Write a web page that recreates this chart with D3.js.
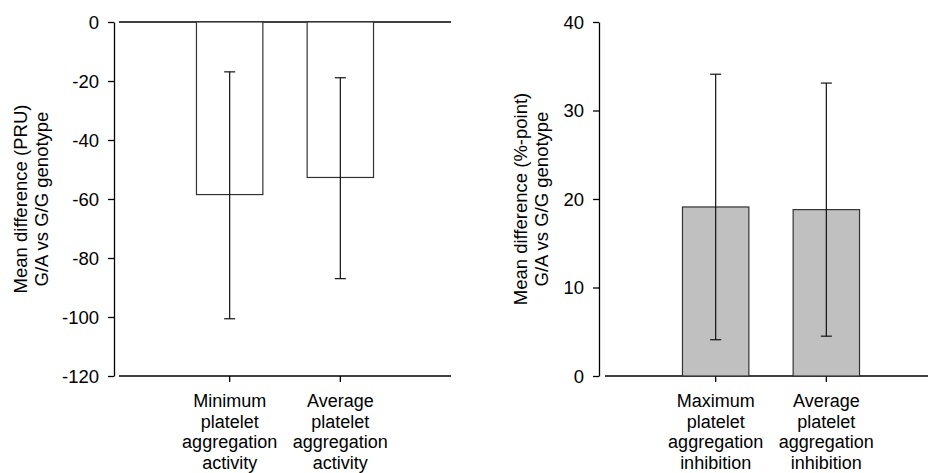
<!DOCTYPE html>
<html>
<head>
<meta charset="utf-8">
<script src="https://cdn.jsdelivr.net/npm/d3@7"></script>
<style>
  body { margin: 0; background: #fff; }
  svg { display: block; font-family: "Liberation Sans", Arial, sans-serif; }
  .axis text { font-size: 18.5px; fill: #000; }
  .axis line, .axis path { stroke: #000; stroke-width: 1.3; }
  .cat { font-size: 18px; fill: #000; }
  .ytitle { font-size: 18.5px; fill: #000; }
</style>
</head>
<body>
<svg width="928" height="473"></svg>
<script>
// left panel: PRU differences
var leftCats = [["Minimum", "platelet", "aggregation", "activity"],
                ["Average", "platelet", "aggregation", "activity"]];
var leftMeans = [-58.5, -52.7];
var leftLow = [-100.6, -87.0];
var leftHigh = [-16.9, -18.9];
var leftTicks = [0, -20, -40, -60, -80, -100, -120];
var leftTitle = ["Mean difference (PRU)", "G/A vs G/G genotype"];

// right panel: inhibition differences
var rightCats = [["Maximum", "platelet", "aggregation", "inhibition"],
                 ["Average", "platelet", "aggregation", "inhibition"]];
var rightMeans = [19.1, 18.8];
var rightLow = [4.1, 4.5];
var rightHigh = [34.1, 33.1];
var rightTicks = [0, 10, 20, 30, 40];
var rightTitle = ["Mean difference (%-point)", "G/A vs G/G genotype"];

var svg = d3.select("svg");

function drawPanel(opts) {
  var g = svg.append("g");
  var x = d3.scaleLinear().domain([0, 3]).range(opts.xRange);
  var y = d3.scaleLinear().domain(opts.yDomain).range([376, 22]);
  var barW = x(0.6) - x(0);

  // y axis
  g.append("g")
    .attr("class", "axis")
    .attr("transform", "translate(" + opts.yAxisX + ",0)")
    .call(d3.axisLeft(y).tickValues(opts.ticks).tickSize(6).tickSizeOuter(0).tickPadding(9)
      .tickFormat(function(d) { return String(d); }))
    .call(function(a) { a.selectAll("text").attr("dy", "0.34em"); });

  // horizontal lines
  opts.hLines.forEach(function(v) {
    g.append("line")
      .attr("x1", x(0)).attr("x2", x(3))
      .attr("y1", y(v)).attr("y2", y(v))
      .attr("stroke", "#000").attr("stroke-width", 1.3);
  });

  // category ticks
  g.selectAll(".ctick").data(opts.cats).enter().append("line")
    .attr("x1", function(d, i) { return x(i + 1); })
    .attr("x2", function(d, i) { return x(i + 1); })
    .attr("y1", 376).attr("y2", 382)
    .attr("stroke", "#000").attr("stroke-width", 1.3);

  // bars
  g.selectAll(".bar").data(opts.means).enter().append("rect")
    .attr("x", function(d, i) { return x(i + 1) - barW / 2; })
    .attr("width", barW)
    .attr("y", function(d) { return Math.min(y(d), y(0)); })
    .attr("height", function(d) { return Math.abs(y(d) - y(0)); })
    .attr("fill", opts.fill)
    .attr("stroke", "#333").attr("stroke-width", 1.2);

  // error bars
  opts.means.forEach(function(m, i) {
    var cx = x(i + 1);
    g.append("line").attr("x1", cx).attr("x2", cx)
      .attr("y1", y(opts.high[i])).attr("y2", y(opts.low[i]))
      .attr("stroke", "#111").attr("stroke-width", 1.2);
    [opts.high[i], opts.low[i]].forEach(function(v) {
      g.append("line").attr("x1", cx - 5.5).attr("x2", cx + 5.5)
        .attr("y1", y(v)).attr("y2", y(v))
        .attr("stroke", "#111").attr("stroke-width", 1.2);
    });
  });

  // category labels
  opts.cats.forEach(function(lines, i) {
    var t = g.append("text").attr("class", "cat")
      .attr("text-anchor", "middle")
      .attr("x", x(i + 1)).attr("y", 407);
    lines.forEach(function(s, k) {
      t.append("tspan").attr("x", x(i + 1)).attr("y", 407 + k * 20.5).text(s);
    });
  });

  // y title
  opts.title.forEach(function(s, k) {
    g.append("text").attr("class", "ytitle")
      .attr("text-anchor", "middle")
      .attr("transform", "translate(" + (opts.titleX + k * 21) + ",199) rotate(-90)")
      .text(s);
  });
}

drawPanel({
  xRange: [119, 451], yAxisX: 114, yDomain: [-120, 0], ticks: leftTicks,
  hLines: [0, -120], cats: leftCats, means: leftMeans, low: leftLow, high: leftHigh,
  fill: "#fff", title: leftTitle, titleX: 26.5
});

drawPanel({
  xRange: [605, 937], yAxisX: 599, yDomain: [0, 40], ticks: rightTicks,
  hLines: [0], cats: rightCats, means: rightMeans, low: rightLow, high: rightHigh,
  fill: "#c0c0c0", title: rightTitle, titleX: 527
});
</script>
</body>
</html>
